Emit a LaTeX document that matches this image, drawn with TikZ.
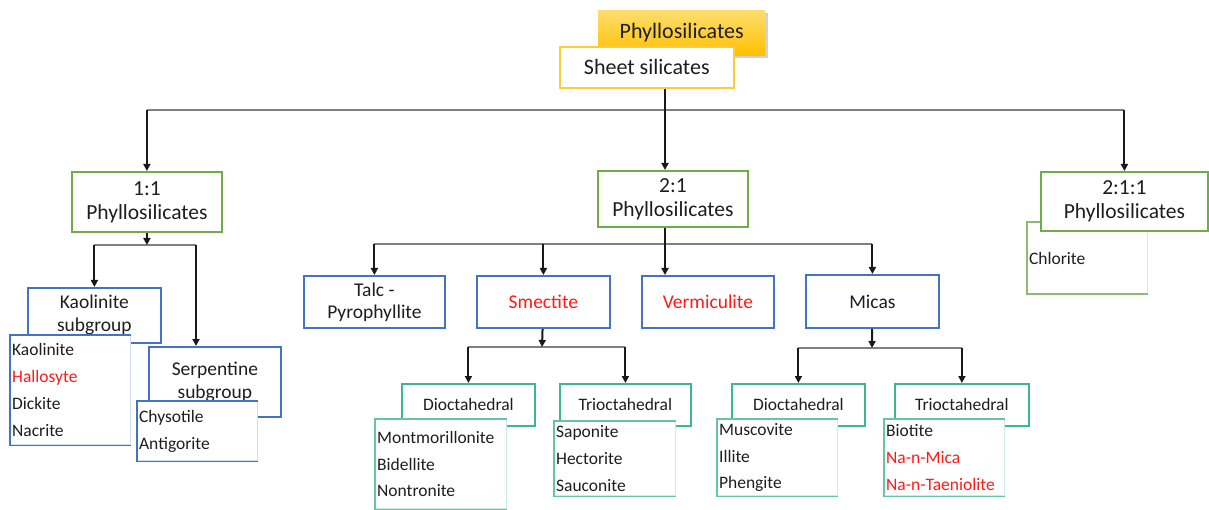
\documentclass[tikz,border=0pt]{standalone}
\usepackage{fontspec}
\setmainfont{Carlito}
\usetikzlibrary{positioning, arrows.meta, shadows}

\definecolor{goldtop}{RGB}{255,222,110}
\definecolor{goldbot}{RGB}{255,192,0}
\definecolor{sheetline}{RGB}{255,204,51}
\definecolor{grpgreen}{RGB}{112,173,71}
\definecolor{clsblue}{RGB}{68,114,196}
\definecolor{submint}{RGB}{60,185,140}
\definecolor{hotred}{RGB}{255,25,25}
\definecolor{inkgrey}{RGB}{30,30,30}
\definecolor{linegrey}{RGB}{128,128,128}

\tikzset{
  goldbox/.style={anchor=north west, inner sep=0pt, top color=goldtop, bottom color=goldbot, draw=none,
    drop shadow={shadow xshift=3pt, shadow yshift=-3pt, opacity=0.35}, font=\fontsize{22}{26}\selectfont},
  sheetbox/.style={anchor=north west, inner sep=0pt, fill=white, draw=sheetline, line width=1.6pt, font=\fontsize{22}{26}\selectfont},
  grpbox/.style={anchor=north west, inner sep=0pt, fill=white, draw=grpgreen, line width=1.8pt, align=center, font=\fontsize{21.5}{24}\selectfont},
  clsbox/.style={anchor=north west, inner sep=0pt, fill=white, draw=clsblue, line width=1.8pt, align=center, font=\fontsize{19.5}{23}\selectfont},
  subbox/.style={anchor=north west, inner sep=0pt, fill=white, draw=submint, line width=1.8pt, font=\fontsize{17.5}{21}\selectfont},
  listbox/.style={anchor=north west, inner xsep=1.5pt, inner ysep=0pt, fill=white, draw=#1!25, line width=1.2pt, align=left, font=\fontsize{17.5}{26.8}\selectfont},
  listedge/.style={draw=#1, line width=1.4pt},
  feed/.style={-{Triangle[length=7pt,width=7pt]}, draw=black!90, line width=2pt},
  branch/.style={draw=linegrey, line width=1.4pt}
}

\begin{document}
\begin{tikzpicture}[x=1pt, y=-1pt, text=inkgrey]
\useasboundingbox[fill=white] (0,0) rectangle (1209,510);

% title boxes

\node[goldbox, minimum width=167pt, minimum height=45pt] (phyllo) at (598,10) {Phyllosilicates};
\node[sheetbox, minimum width=174pt, minimum height=41pt] (sheet) at (559,46) {Sheet silicates};

% groups

\node[grpbox, minimum width=150pt, minimum height=60pt] (oneone) at (71,171) {1:1\\Phyllosilicates};
\node[grpbox, minimum width=150pt, minimum height=56pt] (twoone) at (597,170) {2:1\\Phyllosilicates};
\node[listbox=grpgreen, text width=117pt, minimum height=71pt] (chllist) at (1027,222) {Chlorite};
\draw[listedge=grpgreen!80] (chllist.north east) -| (chllist.south west) -- (chllist.south east);
\node[grpbox, minimum width=167pt, minimum height=59pt] (twooneone) at (1040,171) {2:1:1\\Phyllosilicates};

% 1:1 branch

\node[clsbox, minimum width=133pt, minimum height=55pt] (kaosub) at (27,287) {Kaolinite\\subgroup};
\node[listbox=clsblue, text width=117pt, minimum height=109pt] (kaolist) at (10,335) {Kaolinite\\\textcolor{hotred}{Hallosyte}\\Dickite\\Nacrite};
\node[clsbox, minimum width=132pt, minimum height=70pt] (serpsub) at (148,346) {Serpentine\\subgroup};
\node[listbox=clsblue, text width=117pt, minimum height=59pt] (serplist) at (137,401) {Chysotile\\Antigorite};

% 2:1 branch

\node[clsbox, minimum width=141pt, minimum height=52pt, font=\fontsize{19.5}{22}\selectfont] (talc) at (303,275) {Talc -\\Pyrophyllite};
\node[clsbox, minimum width=133pt, minimum height=52pt, text=hotred] (smectite) at (476,275) {Smectite};
\node[clsbox, minimum width=132pt, minimum height=52pt, text=hotred] (vermic) at (641,275) {Vermiculite};
\node[clsbox, minimum width=133pt, minimum height=53pt] (micas) at (805,274) {Micas};

\node[subbox, minimum width=133pt, minimum height=42pt] (smecdi) at (401,383) {Dioctahedral};
\node[subbox, minimum width=131pt, minimum height=42pt] (smectri) at (559,383) {Trioctahedral};
\node[subbox, minimum width=133pt, minimum height=42pt] (micadi) at (731,383) {Dioctahedral};
\node[subbox, minimum width=134pt, minimum height=42pt] (micatri) at (894,383) {Trioctahedral};

\node[listbox=submint, text width=128pt, minimum height=89pt] (montlist) at (375,419) {Montmorillonite\\Bidellite\\Nontronite};
\node[listbox=submint, text width=118pt, minimum height=74pt] (saplist) at (554,421) {Saponite\\Hectorite\\Sauconite};
\node[listbox=submint, text width=117pt, minimum height=76pt] (muslist) at (717,419) {Muscovite\\Illite\\Phengite};
\node[listbox=submint, text width=117pt, minimum height=76pt] (biolist) at (884,419) {Biotite\\\textcolor{hotred}{Na-n-Mica}\\\textcolor{hotred}{Na-n-Taeniolite}};

% list edges

\draw[listedge=clsblue] (kaolist.north east) -| (kaolist.south west) -- (kaolist.south east);
\draw[listedge=clsblue] (serplist.north east) -| (serplist.south west) -- (serplist.south east);
\draw[listedge=submint!80] (montlist.north east) -| (montlist.south west) -- (montlist.south east);
\draw[listedge=submint!80] (saplist.north east) -| (saplist.south west) -- (saplist.south east);
\draw[listedge=submint!80] (muslist.north east) -| (muslist.south west) -- (muslist.south east);
\draw[listedge=submint!80] (biolist.north east) -| (biolist.south west) -- (biolist.south east);

% arrows

\coordinate (hubtop) at (665,110);
\coordinate (hubmid) at (665,244);
\coordinate (split11) at (146,245);
\coordinate (serpdrop) at (196,245);
\coordinate (smecsplit) at (542,347);
\coordinate (micasplit) at (872,348);

\draw[branch] (hubtop -| oneone) -- (hubtop -| twooneone);
\draw[feed] (hubtop |- sheet.south) -- (hubtop |- twoone.north);
\draw[feed] (hubtop -| oneone) -- (oneone);
\draw[feed] (hubtop -| twooneone) -- (twooneone);

\draw[branch] (split11 -| kaosub) -- (serpdrop);
\draw[feed] (oneone) -- (oneone |- split11);
\draw[feed] (split11 -| kaosub) -- (kaosub);
\draw[feed] (serpdrop) -- (serpdrop |- serpsub.north);

\draw[branch] (hubmid -| talc) -- (hubmid -| micas);
\draw[feed] (hubmid |- twoone.south) -- (hubmid |- vermic.north);
\draw[feed] (hubmid -| talc) -- (talc);
\draw[feed] (hubmid -| smectite) -- (smectite);
\draw[feed] (hubmid -| micas) -- (micas);

\draw[branch] (smecsplit -| smecdi) -- (smecsplit -| smectri);
\draw[feed] (smectite) -- (smecsplit);
\draw[feed] (smecsplit -| smecdi) -- (smecdi);
\draw[feed] (smecsplit -| smectri) -- (smectri);

\draw[branch] (micasplit -| micadi) -- (micasplit -| micatri);
\draw[feed] (micas) -- (micasplit);
\draw[feed] (micasplit -| micadi) -- (micadi);
\draw[feed] (micasplit -| micatri) -- (micatri);

\end{tikzpicture}
\end{document}
